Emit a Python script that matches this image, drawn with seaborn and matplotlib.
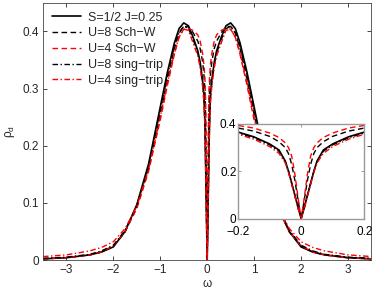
import matplotlib
matplotlib.use("Agg")
import matplotlib.pyplot as plt
import pandas as pd
import seaborn as sns

# frequency grid
omega = [-3.5, -3.0, -2.5, -2.25, -2.0, -1.75, -1.5, -1.25, -1.0, -0.85, -0.7, -0.6,
         -0.5, -0.4, -0.3, -0.2, -0.15, -0.1, -0.07, -0.05, -0.04, -0.03, -0.02, -0.01,
         0.0,
         0.01, 0.02, 0.03, 0.04, 0.05, 0.07, 0.1, 0.15, 0.2, 0.3, 0.4, 0.5,
         0.6, 0.7, 0.85, 1.0, 1.25, 1.5, 1.75, 2.0, 2.25, 2.5, 3.0, 3.5]

rho_s_half = [0.002, 0.004, 0.009, 0.014, 0.023, 0.05, 0.097, 0.168, 0.268, 0.328, 0.38, 0.405,
              0.415, 0.41, 0.39, 0.366, 0.346, 0.316, 0.29, 0.243, 0.2, 0.15, 0.1, 0.048,
              0.0,
              0.048, 0.1, 0.15, 0.2, 0.243, 0.29, 0.316, 0.346, 0.366, 0.39, 0.41, 0.415,
              0.405, 0.38, 0.328, 0.268, 0.168, 0.097, 0.05, 0.023, 0.014, 0.009, 0.004, 0.002]

rho_u8_schw = [0.002, 0.004, 0.009, 0.014, 0.024, 0.049, 0.093, 0.16, 0.255, 0.315, 0.37, 0.397,
               0.409, 0.408, 0.398, 0.383, 0.37, 0.348, 0.325, 0.3, 0.275, 0.23, 0.163, 0.08,
               0.0,
               0.08, 0.163, 0.23, 0.275, 0.3, 0.325, 0.348, 0.37, 0.383, 0.398, 0.408, 0.409,
               0.397, 0.37, 0.315, 0.255, 0.16, 0.093, 0.049, 0.024, 0.014, 0.009, 0.004, 0.002]

rho_u4_schw = [0.002, 0.004, 0.009, 0.014, 0.025, 0.05, 0.09, 0.155, 0.245, 0.305, 0.36, 0.39,
               0.404, 0.405, 0.402, 0.394, 0.383, 0.362, 0.343, 0.32, 0.3, 0.265, 0.19, 0.09,
               0.0,
               0.09, 0.19, 0.265, 0.3, 0.32, 0.343, 0.362, 0.383, 0.394, 0.402, 0.405, 0.404,
               0.39, 0.36, 0.305, 0.245, 0.155, 0.09, 0.05, 0.025, 0.014, 0.009, 0.004, 0.002]

rho_u8_st = [0.003, 0.005, 0.01, 0.016, 0.026, 0.052, 0.095, 0.164, 0.262, 0.322, 0.374, 0.398,
             0.409, 0.405, 0.386, 0.362, 0.342, 0.312, 0.285, 0.24, 0.2, 0.15, 0.098, 0.047,
             0.0,
             0.047, 0.098, 0.15, 0.2, 0.24, 0.285, 0.312, 0.342, 0.362, 0.386, 0.405, 0.409,
             0.398, 0.374, 0.322, 0.262, 0.164, 0.095, 0.052, 0.026, 0.016, 0.01, 0.005, 0.003]

rho_u4_st = [0.006, 0.009, 0.016, 0.022, 0.032, 0.055, 0.094, 0.158, 0.25, 0.31, 0.362, 0.39,
             0.404, 0.402, 0.38, 0.357, 0.336, 0.305, 0.276, 0.235, 0.195, 0.145, 0.095, 0.045,
             0.0,
             0.045, 0.095, 0.145, 0.195, 0.235, 0.276, 0.305, 0.336, 0.357, 0.38, 0.402, 0.404,
             0.39, 0.362, 0.31, 0.25, 0.158, 0.094, 0.055, 0.032, 0.022, 0.016, 0.009, 0.006]

labels = ["S=1/2 J=0.25", "U=8 Sch\u2212W", "U=4 Sch\u2212W", "U=8 sing\u2212trip", "U=4 sing\u2212trip"]

sns.set_style("ticks")
plt.rcParams['font.family'] = ['Liberation Sans', 'DejaVu Sans']
plt.rcParams['xtick.direction'] = 'in'
plt.rcParams['ytick.direction'] = 'in'
plt.rcParams['xtick.top'] = True
plt.rcParams['ytick.right'] = True

df = pd.DataFrame({"omega": omega})
series = [rho_s_half, rho_u8_schw, rho_u4_schw, rho_u8_st, rho_u4_st]
styles = [("black", "-", 1.2), ("black", (0, (4, 2.5)), 1.0), ("red", (0, (4, 2.5)), 1.0),
          ("black", (0, (4, 1.8, 1, 1.8)), 1.0), ("red", (0, (4, 1.8, 1, 1.8)), 1.0)]

fig = plt.figure(figsize=(3.74, 2.91), dpi=100)
ax = fig.add_axes([0.115, 0.1065, 0.878, 0.8835])
ins = fig.add_axes([0.636, 0.2485, 0.3385, 0.3254])

for vals, lab, (col, ls, lw) in zip(series, labels, styles):
    d = df.assign(rho=vals)
    sns.lineplot(data=d, x="omega", y="rho", ax=ax, color=col, linestyle=ls,
                 linewidth=lw, label=lab, sort=False)
    sns.lineplot(data=d, x="omega", y="rho", ax=ins, color=col, linestyle=ls,
                 linewidth=lw, sort=False, legend=False)

ax.set_xlim(-3.5, 3.5)
ax.set_ylim(0, 0.45)
ax.set_xticks([-3, -2, -1, 0, 1, 2, 3])
ax.set_xticklabels(["\u22123", "\u22122", "\u22121", "0", "1", "2", "3"])
ax.set_yticks([0, 0.1, 0.2, 0.3, 0.4])
ax.set_yticklabels(["0", "0.1", "0.2", "0.3", "0.4"])
ax.tick_params(labelsize=8.5, length=3, width=0.6, pad=3)
ax.set_xlabel("\u03c9", fontsize=8.5, labelpad=1)
ax.set_ylabel("\u03c1$_\\mathregular{d}$", fontsize=8.5, labelpad=4)
for s in ax.spines.values():
    s.set_linewidth(0.6)
    s.set_color("#444444")

leg = ax.legend(loc="upper left", frameon=False, fontsize=9, handlelength=2.3,
                handletextpad=0.6, labelspacing=0.3, borderaxespad=0.3,
                bbox_to_anchor=(0.0, 1.0))

ins.set_xlim(-0.2, 0.2)
ins.set_ylim(0, 0.4)
ins.set_xticks([-0.2, 0, 0.2])
ins.set_xticklabels(["\u22120.2", "0", "0.2"])
ins.set_yticks([0, 0.2, 0.4])
ins.set_yticklabels(["0", "0.2", "0.4"])
ins.tick_params(labelsize=8.5, length=2.5, width=0.6, colors="#888888",
                labelcolor="black")
ins.tick_params(axis="x", pad=5.5)
ins.tick_params(axis="y", pad=1)
ins.set_xlabel("")
ins.set_ylabel("")
for s in ins.spines.values():
    s.set_linewidth(1.0)
    s.set_color("#999999")

fig.savefig("out.png", dpi=100)
